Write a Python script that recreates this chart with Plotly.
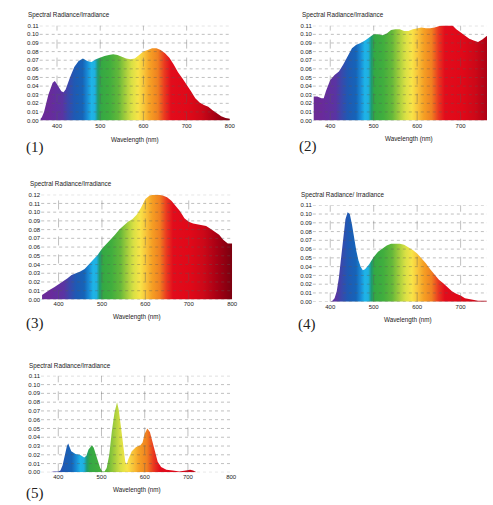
import plotly.graph_objects as go

# ---------------- data ----------------
wl1 = [362, 365, 370, 375, 380, 390, 395, 400, 410, 415, 420, 430, 440, 450, 460, 470, 480, 490, 500,
       510, 520, 530, 540, 550, 560, 570, 580, 590, 600, 610, 620, 630, 640, 650, 660, 670, 680,
       690, 700, 710, 720, 730, 740, 750, 760, 770, 780, 790, 800]
val1 = [0.002, 0.004, 0.010, 0.020, 0.030, 0.044, 0.046, 0.042, 0.034, 0.033, 0.036, 0.050, 0.062,
        0.069, 0.072, 0.069, 0.068, 0.071, 0.073, 0.075, 0.076, 0.077, 0.076, 0.074, 0.072, 0.071,
        0.072, 0.076, 0.080, 0.082, 0.084, 0.084, 0.082, 0.078, 0.073, 0.065, 0.056, 0.049, 0.042,
        0.034, 0.026, 0.021, 0.018, 0.016, 0.012, 0.008, 0.005, 0.003, 0.002]

wl2 = [362, 370, 380, 385, 390, 400, 410, 420, 430, 440, 450, 460, 470, 480, 490, 500, 510, 520, 530,
       540, 550, 560, 570, 580, 590, 600, 610, 620, 630, 640, 650, 660, 670, 680, 690, 700, 710,
       720, 730, 740, 750, 760, 770]
val2 = [0.028, 0.028, 0.026, 0.026, 0.034, 0.047, 0.053, 0.057, 0.065, 0.075, 0.084, 0.088, 0.090,
        0.093, 0.097, 0.100, 0.100, 0.099, 0.101, 0.105, 0.106, 0.106, 0.104, 0.104, 0.106, 0.107,
        0.108, 0.107, 0.107, 0.108, 0.110, 0.111, 0.112, 0.111, 0.106, 0.102, 0.099, 0.095, 0.093,
        0.091, 0.094, 0.098, 0.099]

wl3 = [362, 370, 380, 390, 400, 410, 420, 430, 440, 450, 460, 470, 480, 490, 500, 510, 520, 530, 540,
       550, 560, 570, 580, 590, 600, 610, 620, 630, 640, 650, 660, 670, 680, 690, 700, 710, 720,
       730, 740, 750, 760, 770, 780, 790, 800]
val3 = [0.005, 0.008, 0.011, 0.014, 0.017, 0.020, 0.024, 0.028, 0.030, 0.032, 0.035, 0.040, 0.045,
        0.051, 0.058, 0.063, 0.068, 0.074, 0.080, 0.085, 0.089, 0.092, 0.097, 0.105, 0.115, 0.119,
        0.120, 0.120, 0.119, 0.117, 0.113, 0.107, 0.101, 0.093, 0.089, 0.087, 0.086, 0.085, 0.084,
        0.081, 0.078, 0.074, 0.068, 0.064, 0.064]

wl4 = [400, 405, 410, 415, 420, 425, 430, 435, 440, 445, 450, 455, 460, 465, 470, 475, 480, 490, 500,
       510, 520, 530, 540, 550, 560, 570, 580, 590, 600, 610, 620, 630, 640, 650, 660, 670, 680,
       690, 700, 710, 720, 730, 740, 750, 760]
val4 = [0.000, 0.001, 0.004, 0.012, 0.028, 0.050, 0.075, 0.094, 0.102, 0.100, 0.088, 0.072, 0.058,
        0.047, 0.040, 0.036, 0.037, 0.043, 0.051, 0.057, 0.061, 0.064, 0.066, 0.066, 0.066, 0.065,
        0.062, 0.059, 0.055, 0.050, 0.044, 0.037, 0.031, 0.025, 0.021, 0.016, 0.012, 0.009, 0.007,
        0.004, 0.003, 0.002, 0.001, 0.001, 0.001]

wl5 = [380, 390, 400, 405, 410, 415, 420, 423, 427, 430, 440, 450, 460, 465, 470, 475, 478, 482, 487,
       492, 497, 502, 507, 512, 518, 524, 530, 536, 540, 545, 550, 555, 558, 562, 570, 580, 590,
       595, 600, 606, 612, 618, 624, 630, 638, 650, 665, 680, 695, 705, 712, 720]
val5 = [0.000, 0.001, 0.001, 0.002, 0.008, 0.020, 0.030, 0.033, 0.028, 0.024, 0.021, 0.020, 0.017,
        0.019, 0.026, 0.030, 0.031, 0.028, 0.021, 0.012, 0.005, 0.001, 0.001, 0.005, 0.020, 0.047,
        0.068, 0.080, 0.071, 0.052, 0.028, 0.012, 0.009, 0.015, 0.024, 0.029, 0.031, 0.034, 0.044,
        0.050, 0.046, 0.035, 0.022, 0.012, 0.006, 0.003, 0.002, 0.001, 0.002, 0.003, 0.002, 0.000]

x_tick_vals = [400, 500, 600, 700, 800]
x_grid_vals = [400, 500, 600, 700]
panel_labels = ["(1)", "(2)", "(3)", "(4)", "(5)"]
y_titles = ["Spectral Radiance/Irradiance", "Spectral Radiance/Irradiance",
            "Spectral Radiance/Irradiance", "Spectral Radiance/ Irradiance",
            "Spectral Radiance/Irradiance"]
x_title = "Wavelength (nm)"

# ---------------- style ----------------
W, H = 493, 505
spectral_stops = [
    (360, "#6a2a96"), (380, "#6a2a9a"), (400, "#6030a0"), (412, "#5a34a2"), (425, "#3a48ac"),
    (440, "#1e5ab4"), (458, "#1664b8"), (468, "#1888d4"), (478, "#1eb4e8"), (486, "#20b0e0"),
    (493, "#1e9a70"), (500, "#34a844"), (520, "#40ae3e"), (540, "#64b83a"), (555, "#a0cc3c"),
    (570, "#d8e044"), (585, "#f8e448"), (600, "#f8c038"), (612, "#f5a024"), (630, "#f08020"),
    (645, "#ea3a20"), (660, "#e20c1c"), (700, "#e00818"), (730, "#cc0818"), (760, "#a80014"),
    (790, "#800010"), (800, "#780010"),
]
c0, c1 = spectral_stops[0][0], spectral_stops[-1][0]
colorscale = [[(w - c0) / (c1 - c0), c] for w, c in spectral_stops]

# panel geometry in pixels
panels = [
    dict(wl=wl1, v=val1, px=(40.2, 232.7), py=(23.0, 119.0), xr=(360, 800), ymax=0.11, shift=0,
         lab=(35.5, 146.0), yt=(26.0, 12.3), xt=(137.0, 138.3)),
    dict(wl=wl2, v=val2, px=(316.7, 493.0), py=(23.0, 119.0), xr=(360, 760.7), ymax=0.11, shift=0,
         lab=(311.7, 145.3), yt=(303.3, 12.3), xt=(414.2, 138.0)),
    dict(wl=wl3, v=val3, px=(41.7, 235.0), py=(194.0, 300.0), xr=(360, 800), ymax=0.12, shift=0,
         lab=(35.5, 324.0), yt=(28.0, 183.3), xt=(138.7, 318.0)),
    dict(wl=wl4, v=val4, px=(316.7, 493.0), py=(204.7, 302.3), xr=(360, 760.7), ymax=0.11, shift=0,
         lab=(311.2, 325.3), yt=(302.7, 194.3), xt=(413.0, 321.0)),
    dict(wl=wl5, v=val5, px=(41.5, 234.0), py=(377.3, 475.0), xr=(360, 800), ymax=0.11, shift=28,
         lab=(35.5, 496.0), yt=(27.3, 367.7), xt=(138.7, 493.3)),
]

SANS = "Liberation Sans, Arial, sans-serif"
SERIF = "Liberation Serif, Times New Roman, serif"
TXT = "#222222"
GRID = "rgba(90,90,90,0.55)"

fig = go.Figure()
shapes, annotations = [], []
layout_axes = {}

for i, p in enumerate(panels, start=1):
    xs = "" if i == 1 else str(i)
    fig.add_trace(go.Scatter(
        x=p["wl"], y=p["v"], mode="lines", line=dict(width=0, color="rgba(0,0,0,0)"),
        fill="tozeroy", fillgradient=dict(type="horizontal", colorscale=colorscale,
                                          start=c0 - p["shift"], stop=c1 - p["shift"]),
        xaxis="x" + xs, yaxis="y" + xs, showlegend=False, hoverinfo="skip"))

    xd = [p["px"][0] / W, min(1.0, p["px"][1] / W)]
    yd = [1 - p["py"][1] / H, 1 - p["py"][0] / H]
    layout_axes["xaxis" + xs] = dict(
        domain=xd, range=list(p["xr"]), anchor="y" + xs, tickvals=x_tick_vals,
        showgrid=False, zeroline=False, showline=False, ticks="",
        tickfont=dict(family=SANS, size=6, color=TXT), fixedrange=True)
    layout_axes["yaxis" + xs] = dict(
        domain=yd, range=[0, p["ymax"]], anchor="x" + xs, dtick=0.01, tick0=0, tickformat=".2f",
        showgrid=False, zeroline=False, showline=False, ticks="",
        tickfont=dict(family=SANS, size=6, color=TXT), fixedrange=True)

    n = int(round(p["ymax"] / 0.01))
    for k in range(n + 1):
        shapes.append(dict(type="line", xref=f"x{xs} domain", yref="y" + xs, x0=0, x1=1,
                           y0=k * 0.01, y1=k * 0.01, layer="above",
                           line=dict(color=GRID, width=0.7, dash="dot")))
    for gv in x_grid_vals:
        shapes.append(dict(type="line", xref="x" + xs, yref=f"y{xs} domain", x0=gv, x1=gv,
                           y0=0, y1=1, layer="above",
                           line=dict(color=GRID, width=0.7, dash="dash")))

    annotations.append(dict(text=y_titles[i - 1], xref="paper", yref="paper",
                            x=p["yt"][0] / W, y=1 - p["yt"][1] / H, xanchor="left",
                            yanchor="middle", showarrow=False,
                            font=dict(family=SANS, size=6.3, color=TXT)))
    annotations.append(dict(text=x_title, xref="paper", yref="paper",
                            x=p["xt"][0] / W, y=1 - p["xt"][1] / H, xanchor="center",
                            yanchor="middle", showarrow=False,
                            font=dict(family=SANS, size=6.3, color=TXT)))
    annotations.append(dict(text=panel_labels[i - 1], xref="paper", yref="paper",
                            x=p["lab"][0] / W, y=1 - p["lab"][1] / H, xanchor="center",
                            yanchor="middle", showarrow=False,
                            font=dict(family=SERIF, size=15, color=TXT)))

fig.update_layout(width=W, height=H, margin=dict(l=0, r=0, t=0, b=0, pad=0),
                  paper_bgcolor="white", plot_bgcolor="white", showlegend=False,
                  shapes=shapes, annotations=annotations, **layout_axes)

fig.write_html("out.html", config={"displayModeBar": False},
               post_script="document.body.style.margin='0';document.body.style.overflow='hidden';")
